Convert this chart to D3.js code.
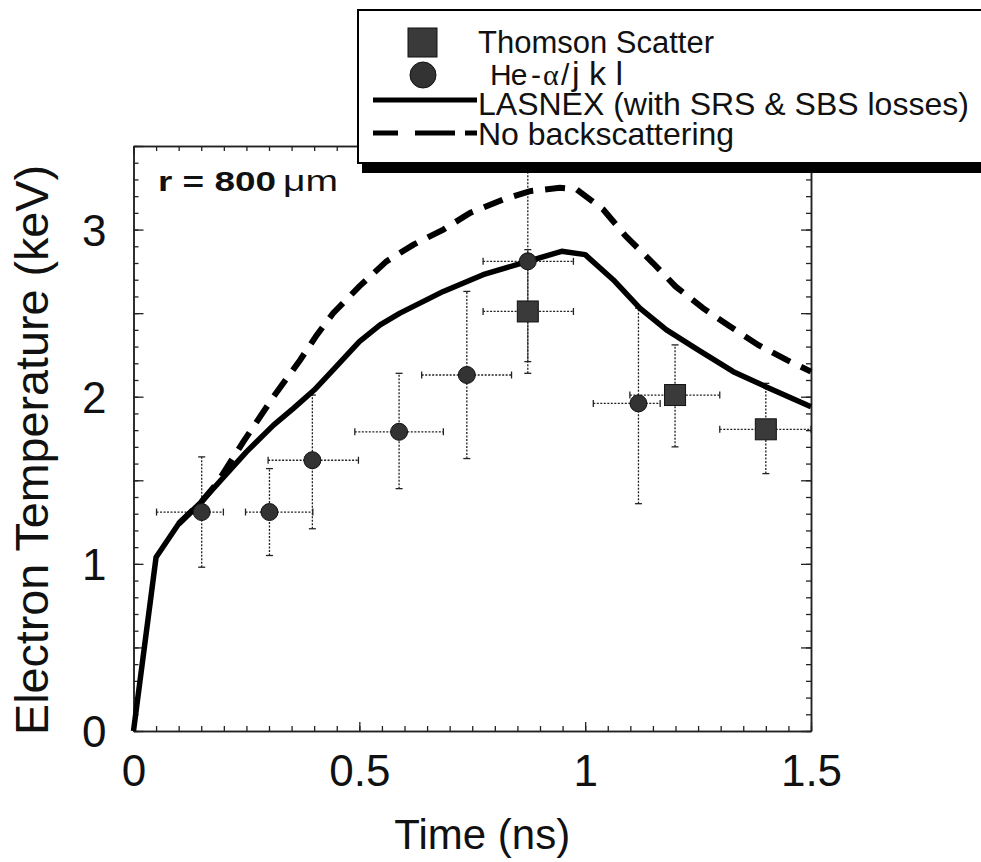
<!DOCTYPE html>
<html>
<head>
<meta charset="utf-8">
<script src="https://cdn.jsdelivr.net/npm/d3@7"></script>
<style>
  body { margin: 0; background: #fff; }
  svg text { font-family: "Liberation Sans", Arial, Helvetica, sans-serif; fill: #111; }
</style>
</head>
<body>
<svg id="chart" width="981" height="862"></svg>
<script>
// LASNEX curve (with SRS & SBS losses)
var lasnexT  = [0, 0.05, 0.10, 0.15, 0.25, 0.31, 0.354, 0.40, 0.442, 0.50, 0.546, 0.59, 0.686, 0.774, 0.873, 0.948, 1.00, 1.062, 1.121, 1.18, 1.25, 1.328, 1.40, 1.50];
var lasnexTe = [0, 1.04, 1.24, 1.37, 1.67, 1.83, 1.93, 2.04, 2.16, 2.33, 2.43, 2.50, 2.63, 2.73, 2.81, 2.87, 2.85, 2.70, 2.53, 2.40, 2.28, 2.15, 2.06, 1.94];

// No backscattering curve
var noBsT  = [0.10, 0.15, 0.184, 0.243, 0.31, 0.369, 0.406, 0.442, 0.50, 0.56, 0.62, 0.686, 0.745, 0.819, 0.878, 0.944, 0.981, 1.04, 1.09, 1.15, 1.20, 1.261, 1.321, 1.383, 1.446, 1.50];
var noBsTe = [1.24, 1.37, 1.48, 1.73, 2.00, 2.22, 2.37, 2.50, 2.66, 2.81, 2.91, 3.00, 3.10, 3.18, 3.23, 3.25, 3.24, 3.12, 2.96, 2.80, 2.66, 2.53, 2.42, 2.31, 2.22, 2.15];

// He-alpha / jkl points with error ranges
var heT    = [0.151, 0.301, 0.396, 0.588, 0.738, 0.873, 1.118];
var heTe   = [1.31, 1.31, 1.62, 1.79, 2.13, 2.81, 1.96];
var heTlo  = [0.051, 0.248, 0.298, 0.490, 0.638, 0.774, 1.018];
var heThi  = [0.199, 0.397, 0.498, 0.686, 0.837, 0.974, 1.166];
var heTeLo = [0.98, 1.05, 1.21, 1.45, 1.63, 2.14, 1.36];
var heTeHi = [1.64, 1.57, 2.01, 2.14, 2.63, 3.50, 2.53];

// Thomson scatter points
var tsT    = [0.873, 1.199, 1.40];
var tsTe   = [2.51, 2.01, 1.805];
var tsTlo  = [0.774, 1.099, 1.298];
var tsThi  = [0.974, 1.298, 1.50];
var tsTeLo = [2.21, 1.70, 1.54];
var tsTeHi = [2.88, 2.31, 2.08];

var xTicks = [0, 0.5, 1, 1.5];
var yTicks = [0, 1, 2, 3];

(function tempChart() {
    var svg = d3.select("#chart");
    var left = 133.5, right = 811, plotTop = 146, bottom = 731;

    var x = d3.scaleLinear().domain([0, 1.5]).range([left, right]);
    var y = d3.scaleLinear().domain([0, 3.5]).range([bottom, plotTop]);

    function zip(a, b) { return a.map(function (v, i) { return [v, b[i]]; }); }
    function rangeStep(a, b, s) {
        return d3.range(Math.round((b - a) / s) + 1).map(function (i) { return +(a + i * s).toFixed(3); });
    }

    function styleAxis(g) {
        g.select(".domain").attr("stroke", "#222").attr("stroke-width", 1.5);
        g.selectAll(".tick line").attr("stroke", "#222").attr("stroke-width", 1.3);
    }

    var xMinor = rangeStep(0, 1.5, 0.05), xMajor = [0, 0.5, 1, 1.5];
    var yMinor = rangeStep(0, 3.5, 0.1), yMajor = [0, 0.5, 1, 1.5, 2, 2.5, 3, 3.5];

    // minor + major ticks on all four sides, pointing inward
    [[xMinor, -5], [xMajor, -9]].forEach(function (p) {
        svg.append("g").attr("transform", "translate(0," + bottom + ")")
            .call(d3.axisBottom(x).tickValues(p[0]).tickSize(p[1]).tickSizeOuter(0).tickFormat(""))
            .call(styleAxis);
        svg.append("g").attr("transform", "translate(0," + plotTop + ")")
            .call(d3.axisTop(x).tickValues(p[0]).tickSize(p[1]).tickSizeOuter(0).tickFormat(""))
            .call(styleAxis);
    });
    [[yMinor, -5], [yMajor, -10]].forEach(function (p) {
        svg.append("g").attr("transform", "translate(" + left + ",0)")
            .call(d3.axisLeft(y).tickValues(p[0]).tickSize(p[1]).tickSizeOuter(0).tickFormat(""))
            .call(styleAxis);
        svg.append("g").attr("transform", "translate(" + right + ",0)")
            .call(d3.axisRight(y).tickValues(p[0]).tickSize(p[1]).tickSizeOuter(0).tickFormat(""))
            .call(styleAxis);
    });

    // tick labels
    var xLab = svg.append("g").attr("transform", "translate(0," + bottom + ")")
        .call(d3.axisBottom(x).tickValues(xTicks).tickSize(0).tickPadding(24).tickFormat(d3.format("")));
    xLab.select(".domain").remove();
    xLab.selectAll("text").attr("font-size", 44).attr("font-family", null).attr("fill", "#111");

    var yLab = svg.append("g").attr("transform", "translate(" + left + ",0)")
        .call(d3.axisLeft(y).tickValues(yTicks).tickSize(0).tickPadding(27).tickFormat(d3.format("d")));
    yLab.select(".domain").remove();
    yLab.selectAll("text").attr("font-size", 44).attr("dy", "0.36em").attr("font-family", null).attr("fill", "#111");

    // axis titles
    svg.append("text")
        .attr("x", (left + right) / 2 + 10)
        .attr("y", 849)
        .attr("text-anchor", "middle")
        .attr("font-size", 42)
        .text("Time (ns)");

    svg.append("text")
        .attr("transform", "translate(48,450) rotate(-90)")
        .attr("text-anchor", "middle")
        .attr("font-size", 46)
        .attr("textLength", 570)
        .attr("lengthAdjust", "spacingAndGlyphs")
        .text("Electron Temperature (keV)");

    // r = 800 um label
    svg.append("text")
        .attr("x", 158).attr("y", 191)
        .attr("font-size", 28).attr("font-weight", "bold")
        .attr("textLength", 118).attr("lengthAdjust", "spacingAndGlyphs")
        .text("r = 800");
    svg.append("text")
        .attr("x", 283).attr("y", 191)
        .attr("font-size", 30)
        .attr("textLength", 55).attr("lengthAdjust", "spacingAndGlyphs")
        .text("\u03bcm");

    // error bars: dotted bars, solid caps
    function errorBars(T, Te, Tlo, Thi, TeLo, TeHi) {
        var g = svg.append("g").attr("stroke", "#222").attr("fill", "none");
        T.forEach(function (t, i) {
            g.append("line").attr("x1", x(Tlo[i])).attr("x2", x(Thi[i]))
                .attr("y1", y(Te[i])).attr("y2", y(Te[i]))
                .attr("stroke-width", 1.3).attr("stroke-dasharray", "2,1.5");
            g.append("line").attr("x1", x(t)).attr("x2", x(t))
                .attr("y1", y(TeLo[i])).attr("y2", y(TeHi[i]))
                .attr("stroke-width", 1.3).attr("stroke-dasharray", "2,1.5");
            [Tlo[i], Thi[i]].forEach(function (v) {
                g.append("line").attr("x1", x(v)).attr("x2", x(v))
                    .attr("y1", y(Te[i]) - 3.5).attr("y2", y(Te[i]) + 3.5).attr("stroke-width", 1.3);
            });
            [TeLo[i], TeHi[i]].forEach(function (v) {
                g.append("line").attr("x1", x(t) - 3.5).attr("x2", x(t) + 3.5)
                    .attr("y1", y(v)).attr("y2", y(v)).attr("stroke-width", 1.3);
            });
        });
    }
    errorBars(heT, heTe, heTlo, heThi, heTeLo, heTeHi);
    errorBars(tsT, tsTe, tsTlo, tsThi, tsTeLo, tsTeHi);

    // curves
    var line = d3.line().x(function (d) { return x(d[0]); }).y(function (d) { return y(d[1]); });

    svg.append("path")
        .datum(zip(noBsT, noBsTe))
        .attr("d", line)
        .attr("fill", "none").attr("stroke", "#000")
        .attr("stroke-width", 6).attr("stroke-dasharray", "20,12");

    svg.append("path")
        .datum(zip(lasnexT, lasnexTe))
        .attr("d", line)
        .attr("fill", "none").attr("stroke", "#000")
        .attr("stroke-width", 5.5).attr("stroke-linejoin", "round");

    // markers
    svg.selectAll(".he").data(heT).enter().append("circle")
        .attr("class", "he")
        .attr("cx", function (d) { return x(d); })
        .attr("cy", function (d, i) { return y(heTe[i]); })
        .attr("r", 8.5)
        .attr("fill", "#333").attr("stroke", "#111").attr("stroke-width", 1);

    svg.selectAll(".ts").data(tsT).enter().append("rect")
        .attr("class", "ts")
        .attr("x", function (d) { return x(d) - 10.5; })
        .attr("y", function (d, i) { return y(tsTe[i]) - 10.5; })
        .attr("width", 21).attr("height", 21)
        .attr("fill", "#3a3a3a").attr("stroke", "#111").attr("stroke-width", 1);

    // legend box with drop shadow
    var lg = svg.append("g");
    lg.append("rect").attr("x", 362).attr("y", 18).attr("width", 640).attr("height", 155).attr("fill", "#000");
    lg.append("rect").attr("x", 358).attr("y", 10).attr("width", 640).attr("height", 153)
        .attr("fill", "#fff").attr("stroke", "#000").attr("stroke-width", 2);

    lg.append("rect").attr("x", 408).attr("y", 28).attr("width", 29).attr("height", 29)
        .attr("fill", "#3a3a3a").attr("stroke", "#111");
    lg.append("circle").attr("cx", 423).attr("cy", 75).attr("r", 13)
        .attr("fill", "#333").attr("stroke", "#111");
    lg.append("line").attr("x1", 373).attr("x2", 477).attr("y1", 100).attr("y2", 100)
        .attr("stroke", "#000").attr("stroke-width", 5);
    lg.append("line").attr("x1", 373).attr("x2", 477).attr("y1", 133).attr("y2", 133)
        .attr("stroke", "#000").attr("stroke-width", 5).attr("stroke-dasharray", "25,17,40,10");

    lg.append("text").attr("x", 478).attr("y", 53).attr("font-size", 31).text("Thomson Scatter");
    lg.append("text").attr("x", 490).attr("y", 85).attr("font-size", 30)
        .attr("letter-spacing", -1).text("He");
    lg.append("text").attr("x", 531).attr("y", 85).attr("font-size", 30).text("-");
    lg.append("text").attr("x", 543).attr("y", 85).attr("font-size", 30)
        .style("font-family", "'Liberation Serif', 'DejaVu Serif', serif").text("\u03b1");
    lg.append("text").attr("x", 561).attr("y", 85).attr("font-size", 30).text("/");
    lg.append("text").attr("x", 572).attr("y", 85).attr("font-size", 34).text("j k l");
    lg.append("text").attr("x", 478).attr("y", 115).attr("font-size", 32).text("LASNEX (with SRS & SBS losses)");
    lg.append("text").attr("x", 478).attr("y", 145).attr("font-size", 32).text("No backscattering");
}());
</script>
</body>
</html>
